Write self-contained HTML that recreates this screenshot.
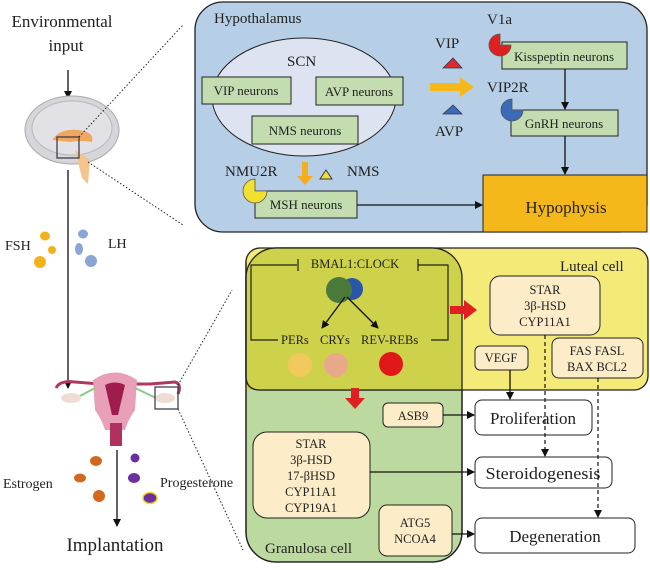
<!DOCTYPE html>
<html><head><meta charset="utf-8"><style>
html,body{margin:0;padding:0;background:#fff;}
svg text{font-family:"Liberation Serif",serif;fill:#222;}
</style></head><body>
<svg width="650" height="565" viewBox="0 0 650 565" xmlns="http://www.w3.org/2000/svg">
<defs>
<marker id="ah" markerWidth="8" markerHeight="8" refX="7" refY="4" orient="auto" markerUnits="userSpaceOnUse"><path d="M0,0 L8,4 L0,8 z" fill="#111"/></marker>
<clipPath id="gc"><rect x="246" y="248" width="216" height="314" rx="30"/></clipPath>
</defs>

<!-- LEFT -->
<text x="62" y="27" font-size="17" text-anchor="middle">Environmental</text>
<text x="66" y="51" font-size="17" text-anchor="middle">input</text>
<line x1="68" y1="70" x2="68" y2="98" stroke="#111" stroke-width="1.3" marker-end="url(#ah)"/>
<ellipse cx="72" cy="130" rx="47" ry="34" fill="#d6d6da" stroke="#aaa"/>
<ellipse cx="72" cy="128" rx="40" ry="27" fill="#e2e2e6" stroke="#b8b8bc"/>
<path d="M52,140 Q60,128 78,130 Q95,132 92,142 Q80,140 70,142 Z" fill="#f0a860"/>
<path d="M75,150 L82,178 L88,184 L90,160 Z" fill="#f3c48e"/>
<rect x="57" y="137" width="22" height="21" fill="none" stroke="#334" stroke-width="1.2"/>
<line x1="79" y1="137" x2="183" y2="25" stroke="#222" stroke-dasharray="1.5,2"/>
<line x1="88" y1="162" x2="183" y2="225" stroke="#222" stroke-dasharray="1.5,2"/>
<line x1="68" y1="170" x2="68" y2="388" stroke="#111" stroke-width="1.3" marker-end="url(#ah)"/>
<text x="5" y="250" font-size="14">FSH</text>
<ellipse cx="45" cy="236" rx="5" ry="4.5" fill="#f2b21c"/>
<circle cx="52" cy="250" r="4" fill="#f2b21c"/>
<circle cx="40" cy="262" r="6" fill="#f2b21c"/>
<text x="108" y="248" font-size="14">LH</text>
<ellipse cx="83" cy="234" rx="5" ry="4.5" fill="#8ba6d6"/>
<ellipse cx="79" cy="249" rx="4" ry="6" fill="#8ba6d6"/>
<circle cx="91" cy="261" r="6" fill="#8ba6d6"/>
<path d="M56,388 Q60,380 75,382 L100,384 L150,384 L175,382 Q182,384 178,394" fill="none" stroke="#b0385c" stroke-width="3"/>
<path d="M93,380 Q115,365 137,380 L135,410 Q128,420 125,430 L105,430 Q102,420 95,410 Z" fill="#e8a0b8"/>
<path d="M105,385 Q115,380 125,385 L118,415 L112,415 Z" fill="#a01c4c"/>
<rect x="110" y="423" width="12" height="23" fill="#b03060"/>
<line x1="80" y1="396" x2="95" y2="388" stroke="#8c8" stroke-width="2"/>
<line x1="135" y1="388" x2="156" y2="398" stroke="#8c8" stroke-width="2"/>
<ellipse cx="71" cy="398" rx="10" ry="5" fill="#f0dcd4"/>
<ellipse cx="165" cy="398" rx="10" ry="5" fill="#f0dcd4"/>
<rect x="155" y="387" width="23" height="22" fill="none" stroke="#334" stroke-width="1.2"/>
<line x1="178" y1="385" x2="232" y2="290" stroke="#222" stroke-dasharray="1.5,2"/>
<line x1="178" y1="409" x2="243" y2="550" stroke="#222" stroke-dasharray="1.5,2"/>
<line x1="117" y1="450" x2="117" y2="526" stroke="#111" stroke-width="1.3" marker-end="url(#ah)"/>
<text x="3" y="488" font-size="14">Estrogen</text>
<ellipse cx="96" cy="461" rx="6" ry="5" fill="#d2691e"/>
<ellipse cx="80" cy="478" rx="6" ry="4.5" fill="#d2691e"/>
<circle cx="99" cy="496" r="6" fill="#d2691e"/>
<circle cx="135" cy="458" r="4.5" fill="#6a2fa0"/>
<ellipse cx="134" cy="478" rx="6" ry="5" fill="#6a2fa0"/>
<ellipse cx="150" cy="498" rx="7" ry="5.5" fill="#6a2fa0" stroke="#f5d020" stroke-width="1.5"/>
<text x="160" y="487" font-size="14">Progesterone</text>
<text x="115" y="551" font-size="19" text-anchor="middle">Implantation</text>

<!-- HYPOTHALAMUS -->
<rect x="195" y="2" width="452" height="230" rx="28" fill="#b7cfe6" stroke="#222" stroke-width="1.3"/>
<text x="214" y="23" font-size="15">Hypothalamus</text>
<ellipse cx="304" cy="97" rx="92" ry="59" fill="#dde3f0" stroke="#222"/>
<text x="287" y="66" font-size="15">SCN</text>
<g font-size="13" text-anchor="middle">
<rect x="202" y="77" width="89" height="27" fill="#c3ddb0" stroke="#222"/><text x="246" y="95">VIP neurons</text>
<rect x="316" y="77" width="87" height="28" fill="#c3ddb0" stroke="#222"/><text x="359" y="96">AVP neurons</text>
<rect x="252" y="116" width="106" height="28" fill="#c3ddb0" stroke="#222"/><text x="305" y="135">NMS neurons</text>
<rect x="255" y="191" width="102" height="27" fill="#c3ddb0" stroke="#222"/><text x="306" y="209">MSH neurons</text>
<rect x="502" y="42" width="125" height="27" fill="#c3ddb0" stroke="#222"/><text x="564" y="61">Kisspeptin neurons</text>
<rect x="511" y="110" width="107" height="26" fill="#c3ddb0" stroke="#222"/><text x="564" y="128">GnRH neurons</text>
</g>
<text x="225" y="176" font-size="15">NMU2R</text>
<path d="M302,162 h6 v14 h5 l-8,9 l-8,-9 h5 z" fill="#f5ad1c"/>
<path d="M320,179 L326,170 L332,179 Z" fill="#f2e030" stroke="#335" stroke-width="1"/>
<text x="347" y="176" font-size="15">NMS</text>
<path d="M255,191 L255,179 A12,12 0 1 0 267,191 Z" fill="#f2e030" stroke="#555" stroke-width="0.8"/>
<line x1="357" y1="205" x2="482" y2="205" stroke="#111" stroke-width="1.3" marker-end="url(#ah)"/>
<rect x="483" y="175" width="164" height="57" fill="#f5b81a" stroke="#222"/>
<text x="566" y="213" font-size="17" text-anchor="middle">Hypophysis</text>
<text x="435" y="48" font-size="15">VIP</text>
<path d="M443,68 L453,58 L462,68 Z" fill="#e02a2a" stroke="#335" stroke-width="0.8"/>
<path d="M430,83 h30 v-6 l14,10 l-14,10 v-6 h-30 z" fill="#f5b81a"/>
<path d="M443,114 L453,105 L462,114 Z" fill="#3a6ab8" stroke="#335" stroke-width="0.8"/>
<text x="435" y="136" font-size="15">AVP</text>
<text x="487" y="24" font-size="15">V1a</text>
<path d="M500,45 L500,34 A11,11 0 1 0 511,45 Z" fill="#e02020" stroke="#555" stroke-width="0.8"/>
<text x="487" y="92" font-size="15">VIP2R</text>
<path d="M512,110 L512,99 A11,11 0 1 0 523,110 Z" fill="#3a6ab8" stroke="#555" stroke-width="0.8"/>
<line x1="565" y1="69" x2="565" y2="109" stroke="#111" stroke-width="1.3" marker-end="url(#ah)"/>
<line x1="565" y1="136" x2="565" y2="174" stroke="#111" stroke-width="1.3" marker-end="url(#ah)"/>

<!-- CELLS -->
<rect x="246" y="248" width="216" height="314" rx="30" fill="#bcd9a0" stroke="#222" stroke-width="1.3"/>
<rect x="246" y="248" width="402" height="142" rx="14" fill="#f3ea78" stroke="#222" stroke-width="1.3"/>
<rect x="246" y="248" width="216" height="142" fill="#cdd24a" clip-path="url(#gc)"/>
<rect x="246" y="248" width="216" height="314" rx="30" fill="none" stroke="#222" stroke-width="1.3"/>
<path d="M246,262 V376 Q246,390 260,390 H462" fill="none" stroke="#222" stroke-width="1.3"/>
<text x="560" y="271" font-size="15">Luteal cell</text>
<text x="355" y="268" font-size="12.5" text-anchor="middle">BMAL1:CLOCK</text>
<g stroke="#222" stroke-width="1.2" fill="none">
<path d="M297,265 H251 V340 H278"/><line x1="298" y1="259" x2="298" y2="271"/>
<path d="M418,265 H448 V340 H431"/><line x1="418" y1="259" x2="418" y2="271"/>
</g>
<circle cx="352" cy="289" r="11" fill="#2a55a8"/>
<circle cx="339" cy="290" r="13" fill="#4a7a3a"/>
<line x1="345" y1="297" x2="322" y2="328" stroke="#111" stroke-width="1.3" marker-end="url(#ah)"/>
<line x1="347" y1="297" x2="378" y2="328" stroke="#111" stroke-width="1.3" marker-end="url(#ah)"/>
<text x="281" y="344" font-size="12.5">PERs</text>
<text x="320" y="344" font-size="12.5">CRYs</text>
<text x="361" y="344" font-size="12.5">REV-REBs</text>
<circle cx="300" cy="365" r="12" fill="#f2c95c"/>
<circle cx="336" cy="365" r="12" fill="#e8a98a"/>
<circle cx="391" cy="364" r="12" fill="#e01818"/>
<path d="M450,306 h14 v-6 l13,10 l-13,10 v-6 h-14 z" fill="#e02020"/>
<path d="M351,388 h8 v10 h6 l-10,11 l-10,-11 h6 z" fill="#e02020"/>
<g stroke="#222">
<rect x="490" y="276" width="110" height="59" rx="10" fill="#fdecc8"/>
<rect x="475" y="346" width="53" height="24" rx="5" fill="#fdecc8"/>
<rect x="552" y="338" width="91" height="40" rx="7" fill="#fdecc8"/>
<rect x="383" y="403" width="60" height="24" rx="5" fill="#fdecc8"/>
<rect x="253" y="432" width="117" height="86" rx="14" fill="#fdecc8"/>
<rect x="379" y="505" width="73" height="51" rx="8" fill="#fdecc8"/>
<rect x="475" y="400" width="117" height="35" rx="7" fill="#fff"/>
<rect x="475" y="457" width="137" height="31" rx="7" fill="#fff"/>
<rect x="475" y="518" width="160" height="35" rx="7" fill="#fff"/>
</g>
<g font-size="12.5" text-anchor="middle">
<text x="545" y="294">STAR</text><text x="545" y="310">3β-HSD</text><text x="545" y="326">CYP11A1</text>
<text x="501" y="362">VEGF</text>
<text x="597" y="355">FAS FASL</text><text x="597" y="371">BAX BCL2</text>
<text x="413" y="420">ASB9</text>
<text x="311" y="448">STAR</text><text x="311" y="464">3β-HSD</text><text x="311" y="480">17-βHSD</text><text x="311" y="496">CYP11A1</text><text x="311" y="512">CYP19A1</text>
<text x="415" y="527">ATG5</text><text x="415" y="543">NCOA4</text>
</g>
<g font-size="17" text-anchor="middle">
<text x="533" y="424">Proliferation</text>
<text x="543" y="479" textLength="115" lengthAdjust="spacingAndGlyphs">Steroidogenesis</text>
<text x="555" y="542">Degeneration</text>
</g>
<text x="265" y="553" font-size="15">Granulosa cell</text>
<line x1="510" y1="370" x2="510" y2="399" stroke="#111" stroke-width="1.3" marker-end="url(#ah)"/>
<line x1="545" y1="335" x2="545" y2="456" stroke="#111" stroke-width="1.2" stroke-dasharray="4,3" marker-end="url(#ah)"/>
<line x1="598" y1="378" x2="598" y2="517" stroke="#111" stroke-width="1.2" stroke-dasharray="4,3" marker-end="url(#ah)"/>
<line x1="443" y1="415" x2="474" y2="415" stroke="#111" stroke-width="1.3" marker-end="url(#ah)"/>
<line x1="370" y1="472" x2="474" y2="472" stroke="#111" stroke-width="1.3" marker-end="url(#ah)"/>
<line x1="452" y1="534" x2="474" y2="534" stroke="#111" stroke-width="1.3" marker-end="url(#ah)"/>
</svg>
</body></html>
